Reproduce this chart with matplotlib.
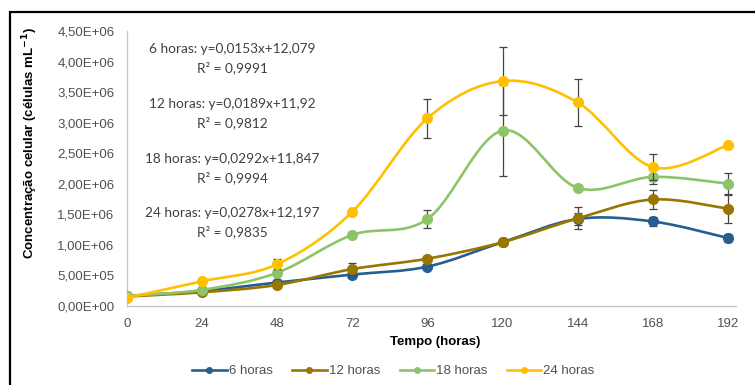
import numpy as np
import matplotlib
matplotlib.use('Agg')
import matplotlib.pyplot as plt
from matplotlib.path import Path
from matplotlib.patches import PathPatch, Rectangle
from matplotlib.lines import Line2D
from matplotlib.ticker import FuncFormatter

plt.rcParams['font.family'] = ['Liberation Sans', 'DejaVu Sans']

# data (cells per mL)
HOURS = [0, 24, 48, 72, 96, 120, 144, 168, 192]
SERIES = ['6 horas', '12 horas', '18 horas', '24 horas']

conc_6h = [0.16e6, 0.24e6, 0.38e6, 0.51e6, 0.64e6, 1.04e6, 1.42e6, 1.38e6, 1.11e6]
conc_12h = [0.15e6, 0.22e6, 0.34e6, 0.60e6, 0.77e6, 1.04e6, 1.43e6, 1.74e6, 1.59e6]
conc_18h = [0.16e6, 0.26e6, 0.54e6, 1.16e6, 1.42e6, 2.87e6, 1.93e6, 2.11e6, 2.00e6]
conc_24h = [0.13e6, 0.40e6, 0.68e6, 1.54e6, 3.07e6, 3.68e6, 3.33e6, 2.27e6, 2.63e6]

err_6h = [0.01e6, 0.01e6, 0.02e6, 0.03e6, 0.03e6, 0.05e6, 0.10e6, 0.07e6, 0.06e6]
err_12h = [0.01e6, 0.02e6, 0.03e6, 0.10e6, 0.03e6, 0.04e6, 0.18e6, 0.16e6, 0.23e6]
err_18h = [0.01e6, 0.02e6, 0.03e6, 0.04e6, 0.15e6, 0.74e6, 0.05e6, 0.12e6, 0.17e6]
err_24h = [0.01e6, 0.03e6, 0.08e6, 0.04e6, 0.32e6, 0.56e6, 0.39e6, 0.21e6, 0.03e6]

EQUATIONS = [
    ('6 horas: y=0,0153x+12,079', 'R² = 0,9991'),
    ('12 horas: y=0,0189x+11,92', 'R² = 0,9812'),
    ('18 horas: y=0,0292x+11,847', 'R² = 0,9994'),
    ('24 horas: y=0,0278x+12,197', 'R² = 0,9835'),
]

COLORS = ['#255E91', '#9A7600', '#8CC568', '#FFC000']
W, H = 755, 385


def smooth_path(x, y):
    # excel-like smoothed line: bezier segments with catmull-rom control points
    x = np.asarray(x, float)
    y = np.asarray(y, float)
    n = len(x)
    verts = [(x[0], y[0])]
    codes = [Path.MOVETO]
    for i in range(n - 1):
        i0 = max(i - 1, 0)
        i3 = min(i + 2, n - 1)
        c1 = (x[i] + (x[i + 1] - x[i0]) / 6, y[i] + (y[i + 1] - y[i0]) / 6)
        c2 = (x[i + 1] - (x[i3] - x[i]) / 6, y[i + 1] - (y[i3] - y[i]) / 6)
        verts += [c1, c2, (x[i + 1], y[i + 1])]
        codes += [Path.CURVE4] * 3
    return Path(verts, codes)


fig = plt.figure(figsize=(W / 100, H / 100), dpi=100)
ax = fig.add_axes([127 / W, 1 - 305.7 / H, (735.7 - 127) / W, (305.7 - 31) / H])

all_conc = [conc_6h, conc_12h, conc_18h, conc_24h]
all_err = [err_6h, err_12h, err_18h, err_24h]

for i in range(len(SERIES)):
    c = COLORS[i]
    z = 2 + i
    ax.add_patch(PathPatch(smooth_path(HOURS, all_conc[i]), fill=False,
                           edgecolor=c, lw=1.9, zorder=z))
    # error bars sit under the markers so the tiny ones disappear as in the original
    ax.errorbar(HOURS, all_conc[i], yerr=all_err[i], fmt='none', ecolor='#444444',
                elinewidth=0.9, capsize=3, capthick=0.9, zorder=z + 0.1)
    ax.plot(HOURS, all_conc[i], 'o', ms=7, color=c, mec=c, zorder=z + 0.2)

ax.set_xlim(0, 194.5)
ax.set_ylim(0, 4.5e6)
ax.set_xticks(HOURS)
ax.set_yticks(np.arange(0, 4.51e6, 0.5e6))
ax.yaxis.set_major_formatter(FuncFormatter(lambda v, p: '{:.2E}'.format(v).replace('.', ',')))
ax.tick_params(length=0, labelsize=9.5, colors='#505050')
ax.tick_params(axis='x', pad=9)
ax.tick_params(axis='y', pad=9)

for s in ['top', 'right']:
    ax.spines[s].set_visible(False)
for s in ['left', 'bottom']:
    ax.spines[s].set_color('#c8c8c8')
    ax.spines[s].set_linewidth(1.0)

fig.text(30 / W, 1 - 143 / H, 'Concentração celular (células mL$^{\\mathbf{-1}}$)',
         rotation=90, ha='center', va='center', fontsize=9.5, fontweight='bold')
fig.text(435 / W, 1 - 342 / H, 'Tempo (horas)', ha='center', va='center',
         fontsize=9.5, fontweight='bold')

# regression equations
eq_y = [49, 104, 159, 213]
for i in range(len(EQUATIONS)):
    fig.text(232 / W, 1 - eq_y[i] / H, EQUATIONS[i][0], ha='center', va='center',
             fontsize=9.8, family=['Lato', 'DejaVu Sans'], color='#404040')
    fig.text(232 / W, 1 - (eq_y[i] + 19) / H, EQUATIONS[i][1], ha='center', va='center',
             fontsize=9.8, family=['Lato', 'DejaVu Sans'], color='#404040')

handles = [Line2D([], [], color=COLORS[i], lw=1.9, marker='o', ms=4) for i in range(len(SERIES))]
fig.legend(handles, SERIES, loc='center', bbox_to_anchor=(393.5 / W, 1 - 371 / H), ncol=4,
           frameon=False, fontsize=9.5, handlelength=2.6, handletextpad=0.15,
           columnspacing=1.5, labelcolor='#505050')

# outer chart frame (only top and left edges fall inside the image)
fig.patches.append(Rectangle((10 / W, -0.2), 1.2, 1 - 12 / H + 0.2, fill=False,
                             edgecolor='black', lw=1.6, transform=fig.transFigure))

fig.savefig('out.png', dpi=100)
